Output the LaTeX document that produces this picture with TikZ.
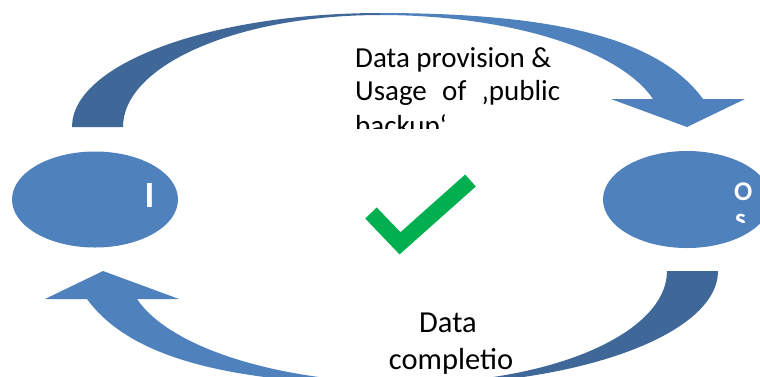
\documentclass[tikz,border=0pt]{standalone}
\usepackage{fontspec}
\setmainfont{Carlito}
\usetikzlibrary{shapes.geometric}
\definecolor{darkblue}{HTML}{3F6797}
\definecolor{lightblue}{HTML}{4F81BD}
\definecolor{checkgreen}{HTML}{00B050}
\tikzset{
  blob/.style={ellipse, fill=lightblue, draw=none, inner sep=0pt},
  toplabel/.style={inner sep=0pt, font=\fontsize{29}{33}\selectfont},
  botlabel/.style={inner sep=0pt, font=\fontsize{30.5}{40}\selectfont},
  whitelabel/.style={inner sep=0pt, text=white},
  checkline/.style={draw=checkgreen, line width=16pt, line join=miter}
}
\newcommand{\CurvedArrowShape}{%
  \fill[darkblue] (72,127) .. controls (72,64) and (210,13) .. (380.5,13)
    -- (380.5,15) .. controls (238,15) and (123,65) .. (123,127) -- cycle;
  \fill[lightblue] (380,13) .. controls (560,13) and (660,40) .. (703,99)
    -- (745,99) -- (687,127) -- (611,99) -- (653,99)
    .. controls (620,50) and (510,15) .. (380,15) -- cycle;
}
\begin{document}
\begin{tikzpicture}[x=1pt,y=-1pt]
\useasboundingbox (0,0) rectangle (760,376);
\clip (0,0) rectangle (760,376);

% curved arrows
\CurvedArrowShape
\begin{scope}[rotate around={180:(395,199)}]
  \CurvedArrowShape
\end{scope}

% ellipses
\node[blob, minimum width=166pt, minimum height=96pt] (left) at (95,199.5) {};
\node[blob, minimum width=168pt, minimum height=97pt] (right) at (687,199.5) {};

% ellipse texts
\node[whitelabel, anchor=base, font=\fontsize{37}{37}\selectfont\bfseries] (ltext) at (149.5,207.5) {I};
\node[whitelabel, anchor=base west, font=\fontsize{27}{27}\selectfont\bfseries] (rtext1) at (734,200) {O};
\begin{scope}
  \clip (700,170) rectangle (760,222.5);
  \node[whitelabel, anchor=base west, font=\fontsize{27}{27}\selectfont\bfseries] (rtext2) at (735,227) {s};
\end{scope}

% top label
\node[toplabel, anchor=base west] (t1) at (355,67) {\hbox to 196pt{Data\hfill provision\hfill\&}};
\node[toplabel, anchor=base west] (t2) at (355,100) {\hbox to 205pt{Usage\hfill of\hfill ‚public}};
\begin{scope}
  \clip (330,100) rectangle (600,128);
  \node[toplabel, anchor=base west] (t3) at (355,135) {backup‘};
\end{scope}

% bottom label
\node[botlabel, anchor=base] (b1) at (448,332) {Data};
\node[botlabel, anchor=base] (b2) at (451,369) {completio};

% check mark
\coordinate (ca) at (371,213);
\coordinate (cv) at (400,243.3);
\coordinate (cb) at (470.5,180.5);
\draw[checkline] (ca) -- (cv) -- (cb);
\end{tikzpicture}
\end{document}
